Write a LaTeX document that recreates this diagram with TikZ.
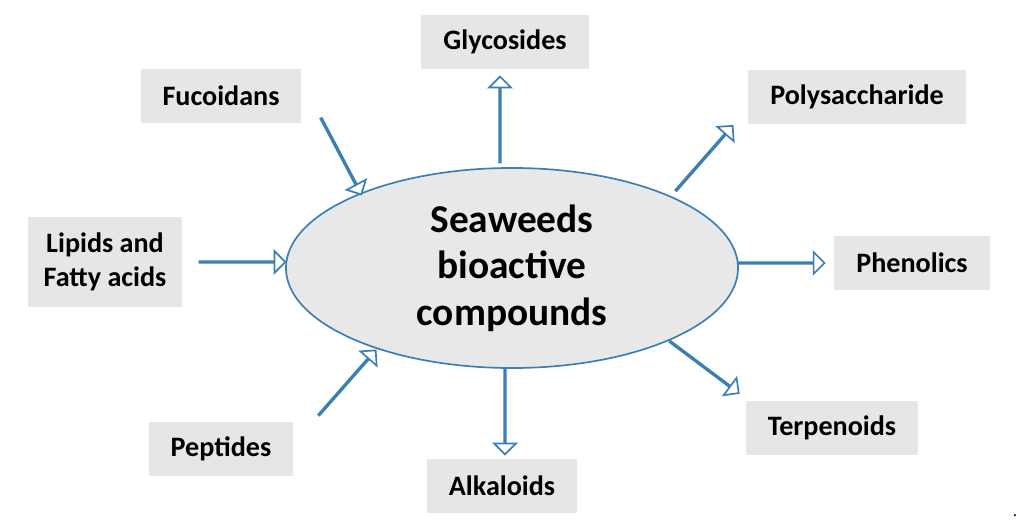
\documentclass[tikz,border=0pt]{standalone}
\usepackage{fontspec}
\setmainfont{Carlito}
\usetikzlibrary{shapes.arrows,shapes.geometric}
\definecolor{edgeblue}{HTML}{3C7FB1}
\definecolor{boxgray}{HTML}{E6E6E6}
\definecolor{ellgray}{HTML}{E8E8E8}

\begin{document}
\begin{tikzpicture}[x=0.025cm,y=-0.025cm,
  label box/.style={fill=boxgray, minimum height=1.35cm, inner xsep=0.55cm, font=\fontsize{20}{24}\selectfont\bfseries, align=center},
  block arrow/.style={single arrow, draw=edgeblue, fill=white, line width=1.2pt, minimum width=0.45cm, single arrow head extend=0.25cm, minimum height=2.15cm, inner sep=0pt, sloped}]
\useasboundingbox (0,0) rectangle (1024,530);

\node[ellipse, draw=edgeblue, fill=ellgray, line width=1.2pt, minimum width=11.3cm, minimum height=5cm, align=center, font=\fontsize{28}{33}\selectfont\bfseries] (core) at (512,268) {Seaweeds\\bioactive\\compounds};

\node[label box] (glyco) at (505,42) {Glycosides};
\node[label box] (fuco) at (221,96) {Fucoidans};
\node[label box] (poly) at (857,97) {Polysaccharide};
\node[label box, minimum height=2.25cm, inner xsep=0.4cm] (lipid) at (105,262) {Lipids and\\Fatty acids};
\node[label box] (phen) at (912,263) {Phenolics};
\node[label box] (pept) at (221,449) {Peptides};
\node[label box] (alka) at (502,486) {Alkaloids};
\node[label box] (terp) at (832,428) {Terpenoids};

% arrows out of the ellipse
\path (500,162) -- (500,78) node[block arrow, pos=.5] (aglyco) {};
\path (360,192) -- (322,120) node[block arrow, pos=.5] (afuco) {};
\path (672,195) -- (736,122) node[block arrow, pos=.5] (apoly) {};
\path (286,262) -- (198,262) node[block arrow, pos=.5] (alipid) {};
\path (738,263) -- (824,263) node[block arrow, pos=.5] (aphen) {};
\path (376,350) -- (318,416) node[block arrow, pos=.5] (apept) {};
\path (505,368) -- (505,454) node[block arrow, pos=.5] (aalka) {};
\path (668,340) -- (740,394) node[block arrow, pos=.5] (aterp) {};

\node[font=\large] (dot) at (1015,516) {.};
\end{tikzpicture}
\end{document}
